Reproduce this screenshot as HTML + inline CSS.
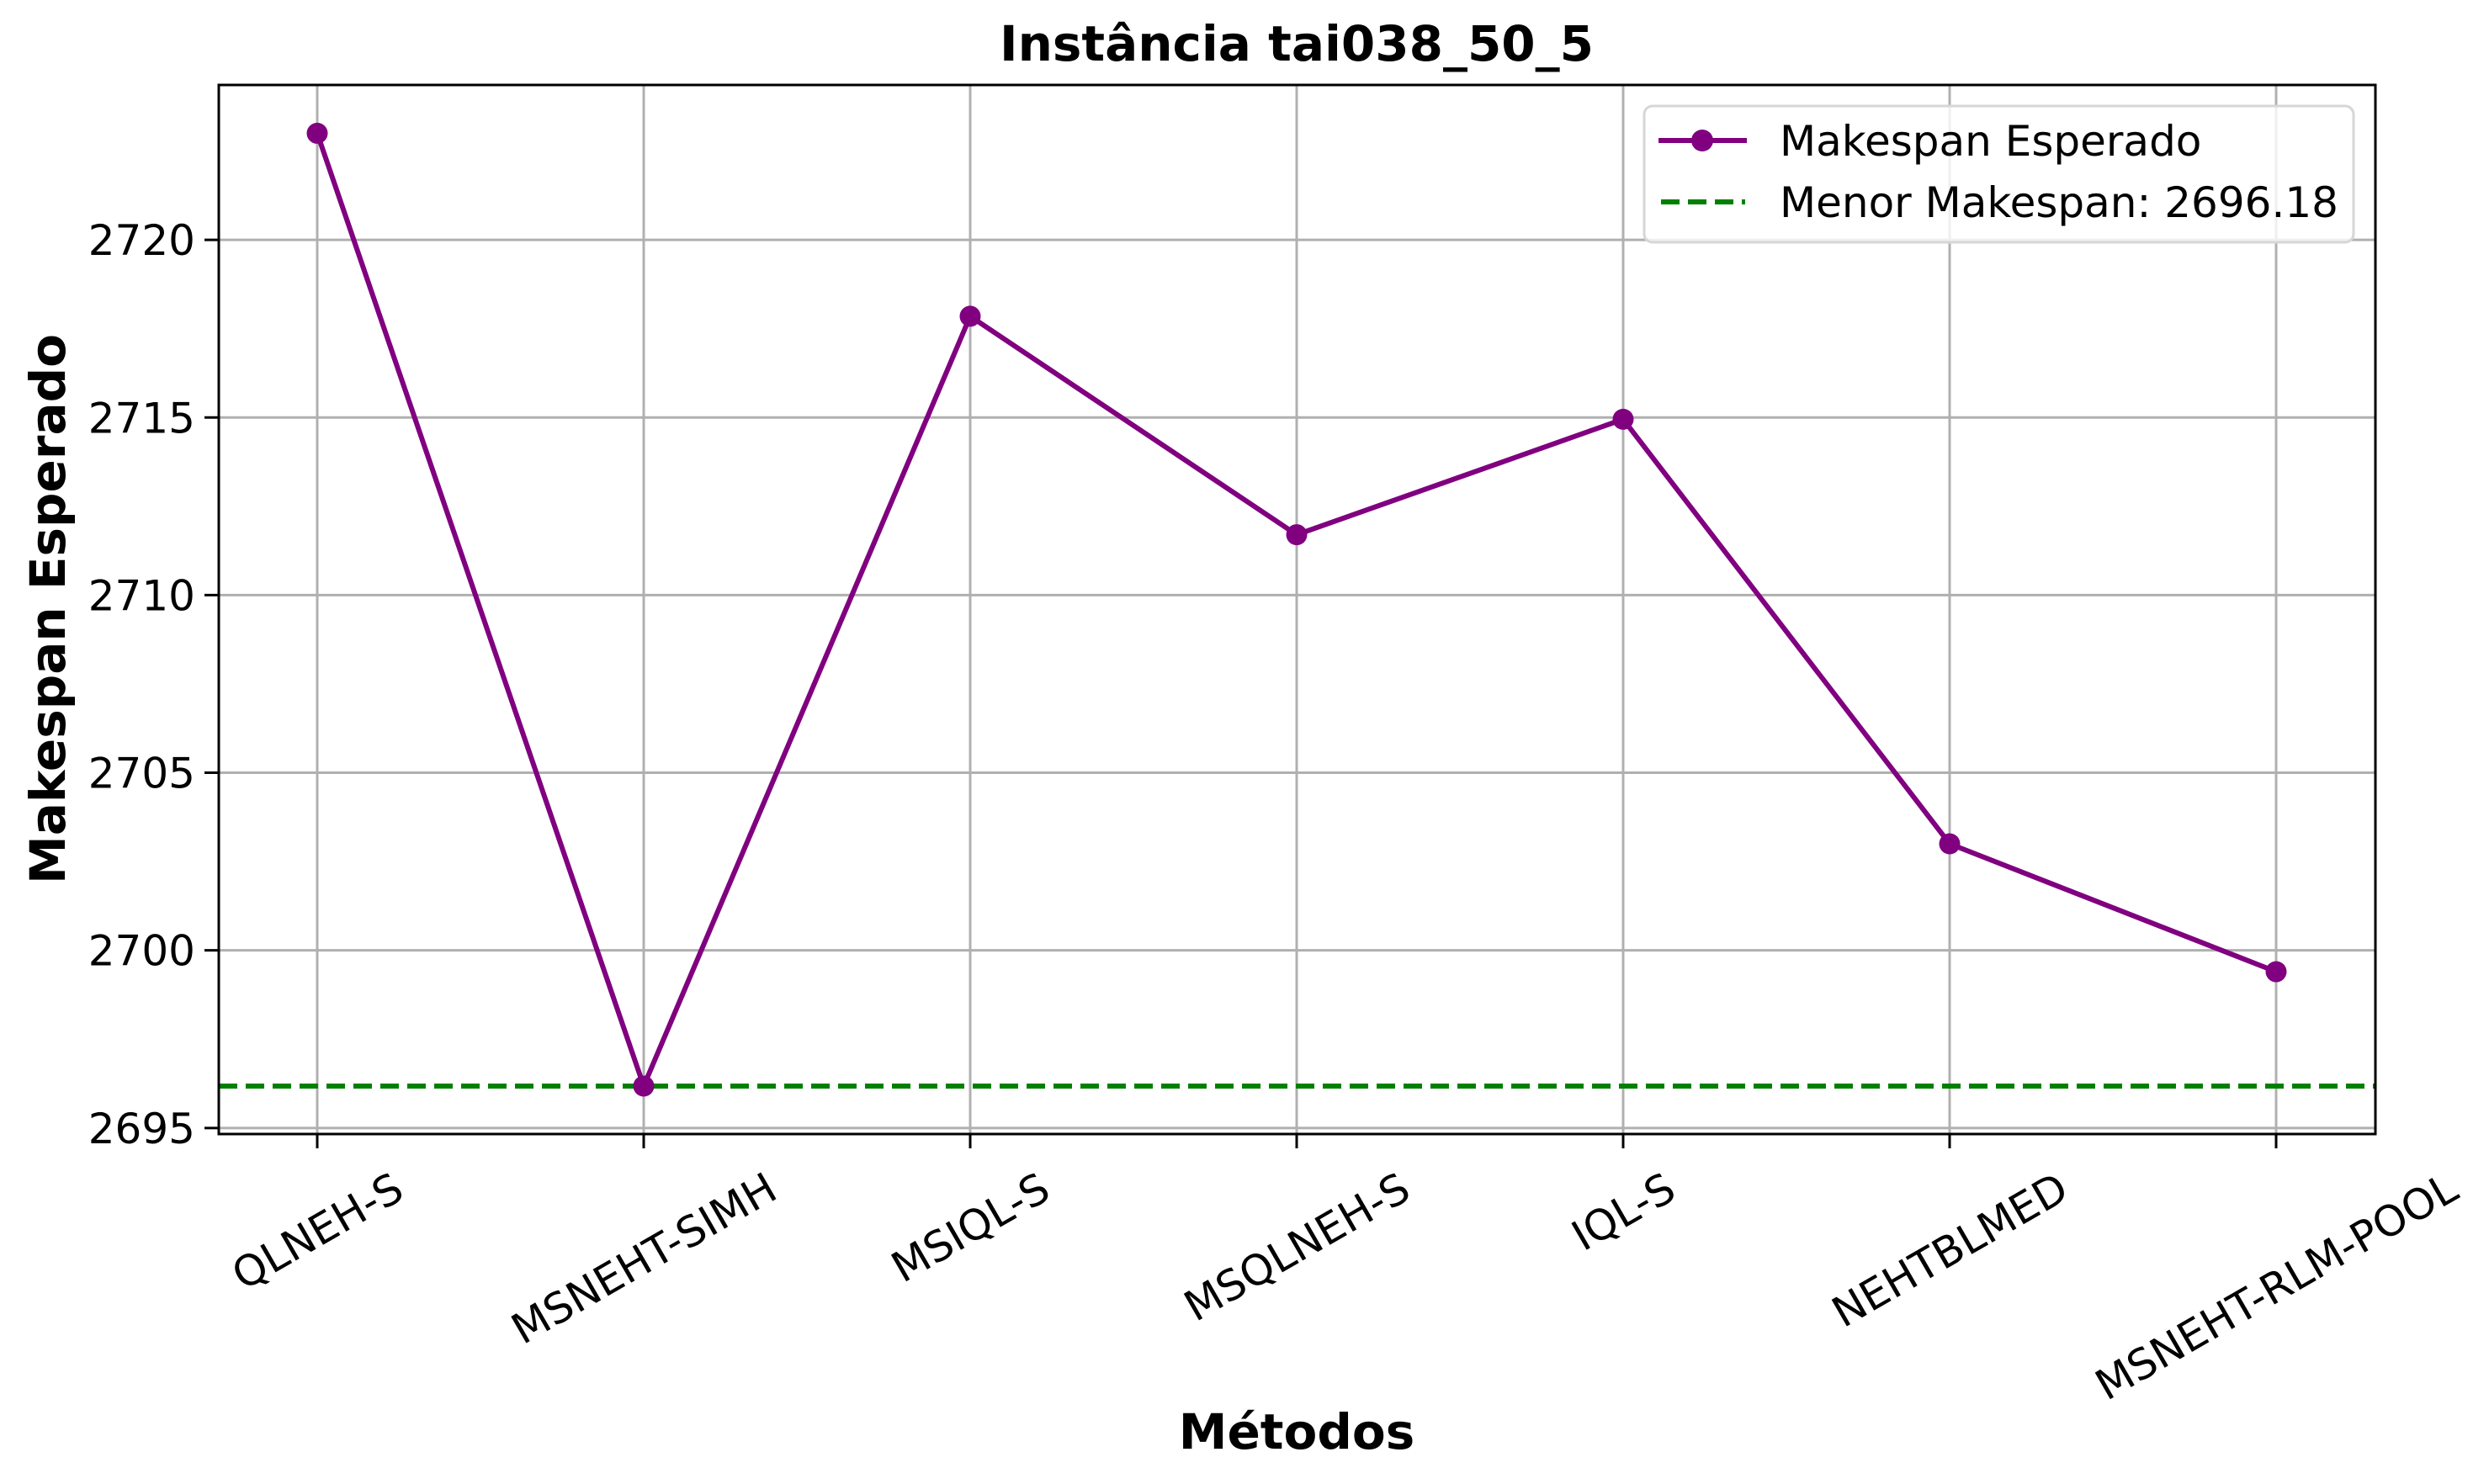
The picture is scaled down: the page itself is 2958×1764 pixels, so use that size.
<!DOCTYPE html>
<html><head><meta charset="utf-8"><style>
html,body{margin:0;padding:0;background:#fff}
svg{display:block;font-family:"DejaVu Sans","Liberation Sans",sans-serif}
</style></head><body>
<svg id="chart" width="2958" height="1764" viewBox="0 0 2958 1764" xmlns="http://www.w3.org/2000/svg">
<rect width="2958" height="1764" fill="#fff"/>
<g id="grid"></g>
<g id="series"></g>
<rect x="260" y="101" width="2563" height="1247" fill="none" stroke="#000" stroke-width="3"/>
<g id="axes"></g>
<text x="1541" y="72" font-size="58" font-weight="bold" text-anchor="middle">Instância tai038_50_5</text>
<text x="1541" y="1722" font-size="58" font-weight="bold" text-anchor="middle">Métodos</text>
<text transform="translate(77,724) rotate(-90)" font-size="58" font-weight="bold" text-anchor="middle">Makespan Esperado</text>
<g>
<rect x="1954" y="126" width="843" height="162" rx="10" fill="#fff" fill-opacity="0.8" stroke="#d6d6d6" stroke-width="3"/>
<g>
<line x1="1971" y1="167" x2="2076" y2="167" stroke="#800080" stroke-width="6"/>
<circle cx="2023" cy="167" r="13" fill="#800080"/>
<text x="2115" y="185" font-size="50">Makespan Esperado</text>
</g>
<g>
<line x1="1974" y1="240" x2="2074" y2="240" stroke="#008000" stroke-width="6" stroke-dasharray="22,10"/>
<text id="minlabel" x="2115" y="258" font-size="50">Menor Makespan: 2696.18</text>
</g>
</g>
</svg>
<script>
const categories = ["QLNEH-S","MSNEHT-SIMH","MSIQL-S","MSQLNEH-S","IQL-S","NEHTBLMED","MSNEHT-RLM-POOL"];
const makespanValues = [2723.0, 2696.18, 2717.85, 2711.7, 2714.95, 2703.0, 2699.4];
const minMakespan = 2696.18;
const yTicks = [2695, 2700, 2705, 2710, 2715, 2720];
const NS = "http://www.w3.org/2000/svg";
const L=260, R=2823, T=101, B=1348;
const yMin=2694.83, yMax=2724.36;
function xs(i){ return 377 + i*388; }
function ys(v){ return B - (v - yMin)/(yMax - yMin)*(B - T); }
function mk(tag, attrs, parent){ const e=document.createElementNS(NS,tag); for(const k in attrs) e.setAttribute(k, attrs[k]); parent.appendChild(e); return e; }
const grid=document.getElementById('grid'), axes=document.getElementById('axes'), series=document.getElementById('series');
categories.forEach((c,i)=>{
  const g = mk('line',{x1:xs(i),x2:xs(i),y1:T,y2:B,stroke:'#b0b0b0','stroke-width':3},grid);
  
  
  const t = mk('line',{x1:xs(i),x2:xs(i),y1:B,y2:B+17,stroke:'#000','stroke-width':3},axes);
  
  
  const lab = mk('text',{'font-size':50,'text-anchor':'middle'},axes);
  lab.textContent=c;
  
  
  const w = lab.getComputedTextLength(); const h=50*1.16;
  const bh = w*0.5 + h*0.866;
  const cy = B+17+17+bh/2;
  lab.setAttribute('transform','translate('+xs(i)+','+cy+') rotate(-30)');
  lab.setAttribute('y', 18);
});
yTicks.forEach(v=>{
  const g = mk('line',{x1:L,x2:R,y1:ys(v),y2:ys(v),stroke:'#b0b0b0','stroke-width':3},grid);
  
  
  const t = mk('line',{x1:L-17,x2:L,y1:ys(v),y2:ys(v),stroke:'#000','stroke-width':3},axes);
  
  
  const lab = mk('text',{x:L-28,y:ys(v)+18,'font-size':50,'text-anchor':'end'},axes);
  lab.textContent=v;
  
  
});
const ml = mk('line',{x1:L,x2:R,y1:ys(minMakespan),y2:ys(minMakespan),stroke:'#008000','stroke-width':6,'stroke-dasharray':'22,10'},series);


const pl = mk('polyline',{points:makespanValues.map((v,i)=>xs(i)+','+ys(v)).join(' '),fill:'none',stroke:'#800080','stroke-width':6,'stroke-linejoin':'round'},series);


makespanValues.forEach((v,i)=>{
  const c = mk('circle',{cx:xs(i),cy:ys(v),r:12.5,fill:'#800080'},series);
  
  
});
</script>
</body></html>
